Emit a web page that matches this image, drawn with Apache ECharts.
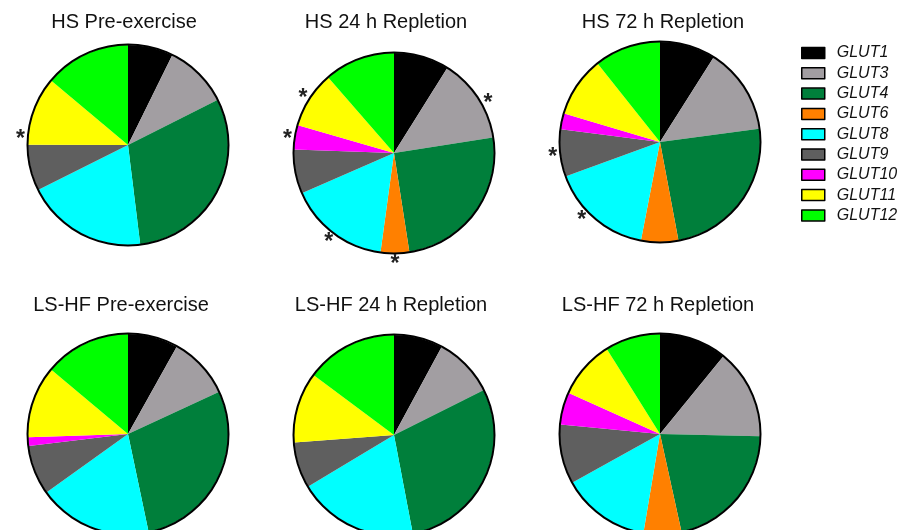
<!DOCTYPE html>
<html>
<head>
<meta charset="utf-8">
<script src="https://cdn.jsdelivr.net/npm/echarts@6/dist/echarts.min.js"></script>
<style>
  html, body { margin: 0; padding: 0; background: #ffffff; }
  #chart { width: 902px; height: 530px; }
</style>
</head>
<body>
<div id="chart"></div>
<script>
// Glucose transporter isoforms and their colours
const genes = ['GLUT1', 'GLUT3', 'GLUT4', 'GLUT6', 'GLUT8', 'GLUT9', 'GLUT10', 'GLUT11', 'GLUT12'];
const geneColors = ['#000000', '#a29ea2', '#007f3b', '#ff8000', '#00ffff', '#5f5f5f', '#ff00ff', '#ffff00', '#00ff00'];

const panelTitles = ['HS Pre-exercise', 'HS 24 h Repletion', 'HS 72 h Repletion',
                     'LS-HF Pre-exercise', 'LS-HF 24 h Repletion', 'LS-HF 72 h Repletion'];

// Relative share (%) of each transporter, in gene order
const hsPre = [7.3, 10.3, 30.5, 0, 19.6, 7.4, 0, 11.1, 13.9];
const hs24  = [8.9, 13.6, 25.0, 4.6, 16.3, 7.1, 3.9, 9.1, 11.4];
const hs72  = [9.0, 13.9, 24.2, 6.0, 16.4, 7.6, 2.6, 9.7, 10.7];
const lsPre = [8.1, 10.0, 28.6, 0, 18.4, 8.0, 1.4, 11.6, 13.9];
const ls24  = [7.9, 9.7, 29.4, 0, 19.4, 7.4, 0, 11.4, 14.8];
const ls72  = [10.9, 14.5, 21.2, 6.1, 14.3, 9.6, 5.2, 9.4, 8.9];

// Transporters flagged as significantly different (*) in each panel
const hsPreSig = ['GLUT11'];
const hs24Sig  = ['GLUT3', 'GLUT6', 'GLUT8', 'GLUT10', 'GLUT11'];
const hs72Sig  = ['GLUT8', 'GLUT9'];
const lsPreSig = [];
const ls24Sig  = [];
const ls72Sig  = [];

const panelValues = [hsPre, hs24, hs72, lsPre, ls24, ls72];
const panelSig = [hsPreSig, hs24Sig, hs72Sig, lsPreSig, ls24Sig, ls72Sig];

// Layout: pie centres, title anchors, asterisk placement
const pieCenters = [[128, 145], [394, 153], [660, 142], [128, 434], [394, 435], [660, 434]];
const titleAnchors = [[124, 22], [386, 22], [663, 22], [121, 305], [391, 305], [658, 305]];
const PIE_R = 100;
const STAR_R = 108;          // distance of an asterisk from the pie centre
const STAR_DY = 4;           // the glyph sits high in its text box
const starAngleShift = [{ GLUT11: -15 }, { GLUT3: 4 }, { GLUT8: 6 }, {}, {}, {}];  // degrees, per panel
const FONT = '"Liberation Sans", Arial, Helvetica, sans-serif';

// Mid-angle (degrees clockwise from 12 o'clock) of a slice
function midAngle(vals, idx) {
  let total = 0, before = 0;
  vals.forEach(function (v, i) { total += v; if (i < idx) before += v; });
  return (before + vals[idx] / 2) / total * 360;
}

const series = [];
panelValues.forEach(function (vals, p) {
  const sig = panelSig[p];
  const c = pieCenters[p];
  series.push({
    type: 'pie',
    name: panelTitles[p],
    center: c,
    radius: [0, PIE_R],
    startAngle: 90,
    clockwise: true,
    avoidLabelOverlap: false,
    silent: true,
    animation: false,
    label: {
      show: false,
      position: 'outside',
      formatter: '*',
      color: '#222222',
      fontSize: 23,
      fontWeight: 'bold',
      fontFamily: FONT
    },
    labelLine: { show: false, length: 3, length2: 0 },
    labelLayout: function (params) {
      const g = genes[params.dataIndex];
      const a = (midAngle(vals, params.dataIndex) + (starAngleShift[p][g] || 0)) * Math.PI / 180;
      return {
        x: c[0] + STAR_R * Math.sin(a),
        y: c[1] - STAR_R * Math.cos(a) + STAR_DY,
        align: 'center',
        verticalAlign: 'middle'
      };
    },
    emphasis: { disabled: true },
    data: genes.map(function (g, i) {
      return {
        name: g,
        value: vals[i],
        itemStyle: { color: geneColors[i] },
        label: { show: sig.indexOf(g) >= 0 }
      };
    })
  });
  // black rim around each pie
  series.push({
    type: 'pie',
    center: c,
    radius: [PIE_R - 0.5, PIE_R + 1.5],
    silent: true,
    animation: false,
    label: { show: false },
    labelLine: { show: false },
    emphasis: { disabled: true },
    data: [{ name: 'rim', value: 1, itemStyle: { color: '#000000' } }]
  });
});

const titleGraphics = panelTitles.map(function (t, p) {
  return {
    type: 'text',
    x: titleAnchors[p][0],
    y: titleAnchors[p][1],
    silent: true,
    style: {
      text: t,
      fill: '#111111',
      font: '20px ' + FONT,
      align: 'center',
      verticalAlign: 'middle'
    }
  };
});

const chart = echarts.init(document.getElementById('chart'), null, { renderer: 'canvas' });
chart.setOption({
  backgroundColor: '#ffffff',
  animation: false,
  legend: {
    data: genes,
    orient: 'vertical',
    left: 801,
    top: 45,
    padding: 0,
    itemWidth: 23,
    itemHeight: 11,
    itemGap: 4.3,
    selectedMode: false,
    icon: 'rect',
    itemStyle: { borderColor: '#000000', borderWidth: 1.5 },
    textStyle: {
      fontFamily: FONT,
      fontStyle: 'italic',
      fontSize: 16,
      color: '#111111',
      padding: [0, 0, 0, 7]
    }
  },
  graphic: titleGraphics,
  series: series
});
</script>
</body>
</html>
